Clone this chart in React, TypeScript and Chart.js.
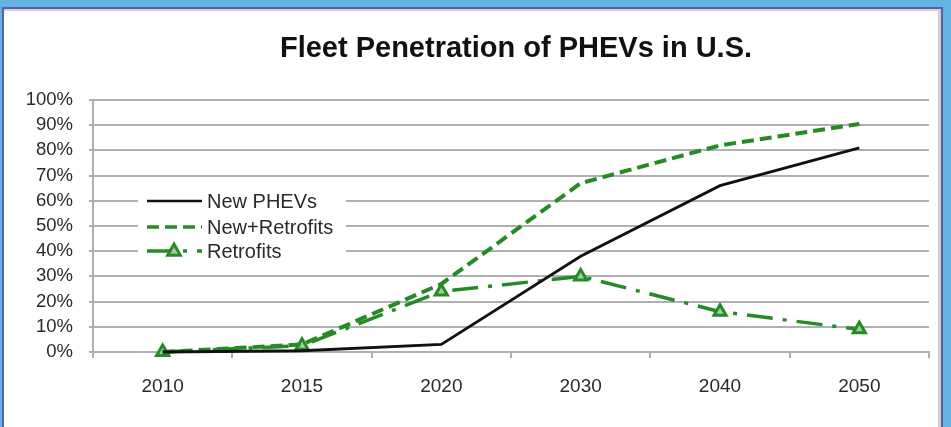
import React, { useEffect, useRef } from "react";
import { Chart, registerables } from "chart.js";

Chart.register(...registerables);

const categories = ["2010", "2015", "2020", "2030", "2040", "2050"];
const newPhevs = [0, 0.5, 3, 38, 66, 81];
const newPlusRetrofits = [0, 3, 27, 67, 82, 90.5];
const retrofits = [0, 2.5, 24, 30, 16, 9];
const yTicks = [0, 10, 20, 30, 40, 50, 60, 70, 80, 90, 100];
const titleText = "Fleet Penetration of PHEVs in U.S.";
const legendLabels = ["New PHEVs", "New+Retrofits", "Retrofits"];

const FONT = '"Liberation Sans", Arial, Helvetica, sans-serif';
const GREEN = "#268a26";
const BLACK = "#111111";
const GRID = "#b0b0b0";
const TEXT = "#2a2a2a";
const TRI_FILL = "#9fd09f";
const DASH = [12, 6];
const DASHDOT = [26, 10, 4, 10];

const overlayPlugin = {
  id: "overlay",
  afterDraw(chart: any) {
    const ctx = chart.ctx;
    ctx.save();
    // title
    ctx.fillStyle = "#111";
    ctx.font = `bold 29px ${FONT}`;
    ctx.textAlign = "center";
    ctx.textBaseline = "alphabetic";
    ctx.fillText(titleText, 516, 57);

    // legend
    ctx.fillStyle = "#ffffff";
    ctx.fillRect(138, 187, 208, 74);
    const rows = [201, 227, 251];
    const x0 = 147, x1 = 202;
    ctx.strokeStyle = BLACK;
    ctx.lineWidth = 2.5;
    ctx.setLineDash([]);
    ctx.beginPath();
    ctx.moveTo(x0, rows[0]);
    ctx.lineTo(x1, rows[0]);
    ctx.stroke();
    ctx.strokeStyle = GREEN;
    ctx.lineWidth = 3.5;
    ctx.setLineDash(DASH);
    ctx.beginPath();
    ctx.moveTo(x0, rows[1]);
    ctx.lineTo(x1, rows[1]);
    ctx.stroke();
    ctx.setLineDash(DASHDOT);
    ctx.lineWidth = 3.5;
    ctx.beginPath();
    ctx.moveTo(x0, rows[2]);
    ctx.lineTo(x1, rows[2]);
    ctx.stroke();
    ctx.setLineDash([]);
    const tx = 174, ty = rows[2], r = 7;
    ctx.beginPath();
    ctx.moveTo(tx, ty - r);
    ctx.lineTo(tx + r * 0.9, ty + r * 0.6);
    ctx.lineTo(tx - r * 0.9, ty + r * 0.6);
    ctx.closePath();
    ctx.fillStyle = TRI_FILL;
    ctx.fill();
    ctx.lineWidth = 3;
    ctx.strokeStyle = GREEN;
    ctx.stroke();

    ctx.fillStyle = TEXT;
    ctx.font = `20px ${FONT}`;
    ctx.textAlign = "left";
    ctx.textBaseline = "middle";
    legendLabels.forEach((t, i) => ctx.fillText(t, 207, rows[i] + 1));
    ctx.restore();
  },
};

export default function App() {
  const ref = useRef<HTMLCanvasElement>(null);
  useEffect(() => {
    document.body.style.margin = "0";
    const chart = new Chart(ref.current as HTMLCanvasElement, {
      type: "line",
      data: {
        labels: categories,
        datasets: [
          {
            label: legendLabels[0],
            data: newPhevs,
            borderColor: BLACK,
            borderWidth: 2.8,
            pointRadius: 0,
            tension: 0,
            clip: false as any,
          },
          {
            label: legendLabels[1],
            data: newPlusRetrofits,
            borderColor: GREEN,
            borderWidth: 4,
            borderDash: DASH,
            pointRadius: 0,
            tension: 0,
            clip: false as any,
          },
          {
            label: legendLabels[2],
            data: retrofits,
            borderColor: GREEN,
            borderWidth: 3.5,
            borderDash: DASHDOT,
            pointStyle: "triangle",
            pointRadius: 7,
            pointBorderWidth: 3,
            pointBackgroundColor: TRI_FILL,
            pointBorderColor: GREEN,
            tension: 0,
            clip: false as any,
          },
        ],
      },
      options: {
        responsive: false,
        animation: false,
        devicePixelRatio: 1,
        layout: { padding: { left: 0, right: 22, top: 100, bottom: 0 } },
        plugins: {
          legend: { display: false },
          title: { display: false },
          tooltip: { enabled: false },
        },
        scales: {
          x: {
            offset: true,
            grid: {
              offset: true,
              drawOnChartArea: false,
              color: GRID,
              lineWidth: 2,
              tickLength: 6,
            },
            border: { color: GRID, width: 2 },
            ticks: {
              color: TEXT,
              font: { family: FONT, size: 19 },
              padding: 17,
              maxRotation: 0,
            },
            afterFit(scale: any) {
              scale.height = 75;
            },
          },
          y: {
            min: 0,
            max: 100,
            afterBuildTicks(scale: any) {
              scale.ticks = yTicks.map((v) => ({ value: v }));
            },
            grid: { color: GRID, lineWidth: 2, tickLength: 4 },
            border: { color: GRID, width: 2 },
            ticks: {
              color: TEXT,
              font: { family: FONT, size: 18.5 },
              padding: 16,
              callback: (v: any) => `${v}%`,
            },
            afterFit(scale: any) {
              scale.width = 93;
            },
          },
        },
      },
      plugins: [overlayPlugin],
    });
    return () => chart.destroy();
  }, []);

  return (
    <div
      style={{
        position: "relative",
        width: 951,
        height: 427,
        background: "#63b3e3",
        overflow: "hidden",
      }}
    >
      <div
        style={{
          position: "absolute",
          left: 2,
          top: 7,
          width: 941,
          height: 430,
          background: "#ffffff",
          borderLeft: "2px solid #5c5ea6",
          borderTop: "2px solid #5c5ea6",
          borderRight: "2px solid #5c5ea6",
          boxSizing: "border-box",
        }}
      >
        <div
          style={{
            position: "absolute",
            left: 0,
            top: 0,
            right: 0,
            bottom: 0,
            borderTop: "2px solid #d2d2d2",
            borderRight: "3px solid #cfcfcf",
          }}
        />
      </div>
      <canvas
        ref={ref}
        width={951}
        height={427}
        style={{ position: "absolute", left: 0, top: 0, width: 951, height: 427 }}
      />
    </div>
  );
}
